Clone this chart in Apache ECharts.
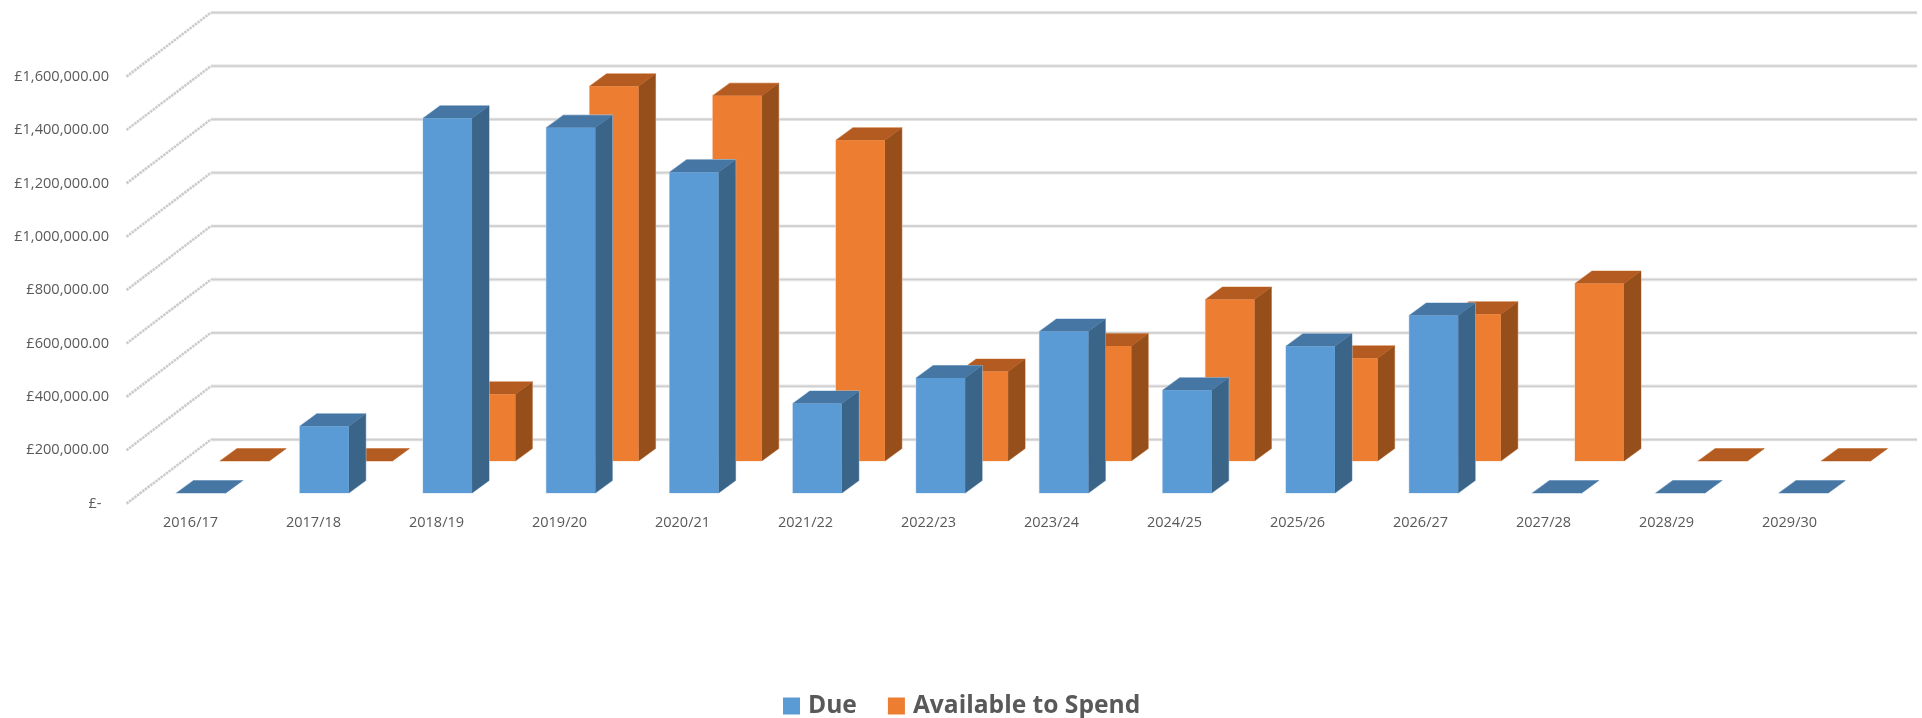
<!DOCTYPE html>
<html>
<head>
<meta charset="utf-8">
<style>html,body{margin:0;padding:0;background:#fff}#c{width:1922px;height:718px}</style>
<script src="https://cdn.jsdelivr.net/npm/echarts@6/dist/echarts.min.js"></script>
</head>
<body>
<div id="c"></div>
<script>
const categories = ['2016/17','2017/18','2018/19','2019/20','2020/21','2021/22','2022/23','2023/24','2024/25','2025/26','2026/27','2027/28','2028/29','2029/30'];
const dueValues = [0,250000,1404000,1369000,1202000,335000,431000,605000,385000,550000,665000,0,0,0];
const availableValues = [0,0,250000,1404000,1369000,1202000,335000,431000,605000,385000,550000,665000,0,0];
const yTicks = [0,200000,400000,600000,800000,1000000,1200000,1400000,1600000];

const chart = echarts.init(document.getElementById('c'), null, {renderer:'canvas'});
const fontFamily = '"Open Sans","Noto Sans",sans-serif';
const DX = 17, DY = 12.5, BW = 49;
const WALL_DX = 84.5, WALL_DY = 64, WALL_RIGHT = 1917;

function wallItem(params, api){
  const cs = params.coordSys;
  const y = api.coord([0, api.value(1)])[1];
  const fx = cs.x - 2.5, bx = fx + WALL_DX, by = y - WALL_DY;
  return {type:'group', children:[
    {type:'line', shape:{x1:fx,y1:y,x2:bx,y2:by}, style:{stroke:'#cccccc',lineWidth:2.6,lineDash:[2.5,0.8]}},
    {type:'line', shape:{x1:bx,y1:by,x2:WALL_RIGHT,y2:by}, style:{stroke:'#e8e8e8',lineWidth:3.4}},
    {type:'line', shape:{x1:bx,y1:by,x2:WALL_RIGHT,y2:by}, style:{stroke:'#cfcfcf',lineWidth:1.6}}
  ]};
}
function barRenderer(offX, stepX, offY, front, top, side, halo){
  return function(params, api){
    const i = api.value(0);
    const c = api.coord([i, api.value(1)]);
    const b = api.coord([i, 0]);
    const x = c[0] + offX + stepX * i, yt = c[1] - offY, yb = b[1] - offY;
    const xr = x + BW, xb = xr + DX;
    return {type:'group', children:[
      {type:'polygon', shape:{points:[[x,yb],[xr,yb],[xb,yb-DY],[xb,yt-DY],[x+DX,yt-DY],[x,yt]]}, style:{fill:halo,stroke:halo,lineWidth:1.2}},
      {type:'polygon', shape:{points:[[xr,yt],[xb,yt-DY],[xb,yb-DY],[xr,yb]]}, style:{fill:side,stroke:side,lineWidth:0.3}},
      {type:'polygon', shape:{points:[[x,yt],[xr,yt],[xb,yt-DY],[x+DX,yt-DY]]}, style:{fill:top,stroke:top,lineWidth:0.3}},
      {type:'rect', shape:{x:x,y:yt,width:BW,height:yb-yt}, style:{fill:front}}
    ]};
  };
}
chart.setOption({
  animation:false,
  backgroundColor:'#fff',
  grid:{left:129,top:76.6,width:1722,height:427,containLabel:false},
  legend:{
    left:778, top:688.5, itemWidth:17, itemHeight:17, itemGap:31, icon:'rect',
    data:['Due','Available to Spend'],
    textStyle:{fontFamily:fontFamily,fontWeight:'bold',fontSize:24.6,color:'#595959',padding:[0,0,0,3]}
  },
  xAxis:{type:'category',data:categories,
    axisLine:{show:false},axisTick:{show:false},splitLine:{show:false},
    axisLabel:{interval:0,margin:12,fontFamily:fontFamily,fontSize:14.5,color:'#595959'}},
  yAxis:{type:'value',min:0,max:1600000,interval:200000,
    axisLine:{show:false},axisTick:{show:false},splitLine:{show:false},
    axisLabel:{margin:20,fontFamily:fontFamily,fontSize:14.6,color:'#595959',
      formatter:v=>v===0?'£-  ':'£'+v.toLocaleString('en-GB',{minimumFractionDigits:2,maximumFractionDigits:2})}},
  series:[
    {type:'custom',name:'wall',silent:true,z:1,clip:false,renderItem:wallItem,data:yTicks.map(v=>[0,v]),encode:{x:0,y:1}},
    {type:'custom',name:'Available to Spend',z:2,clip:false,itemStyle:{color:'#ED7D31'},
      renderItem:barRenderer(29.5,0.18,42.6,'#ED7D31','#B35B20','#964F1B','rgba(248,215,190,0.8)'),
      data:availableValues.map((v,i)=>[i,v]),encode:{x:0,y:1}},
    {type:'custom',name:'Due',z:3,clip:false,itemStyle:{color:'#5B9BD5'},
      renderItem:barRenderer(-14,0.27,10.6,'#5B9BD5','#4677A4','#3A6488','rgba(200,218,236,0.8)'),
      data:dueValues.map((v,i)=>[i,v]),encode:{x:0,y:1}}
  ]
});
</script>
</body>
</html>
